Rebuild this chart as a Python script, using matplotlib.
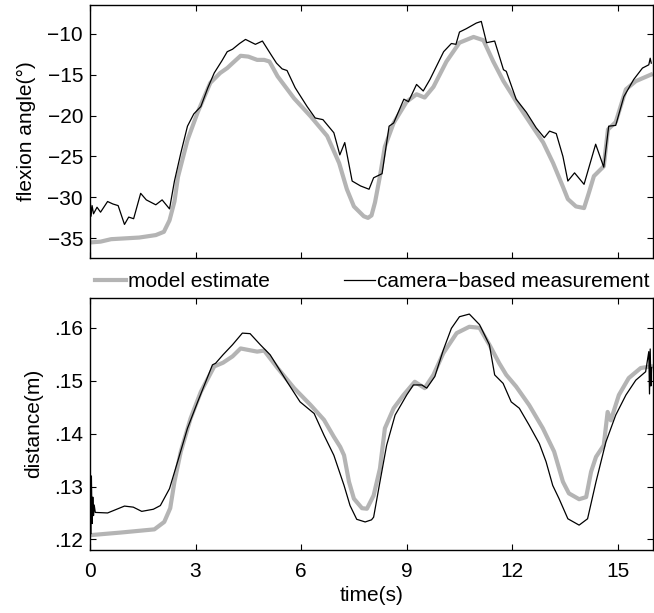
import numpy as np
import matplotlib
matplotlib.use('Agg')
import matplotlib.pyplot as plt

plt.rcParams['font.family'] = ['Liberation Sans', 'DejaVu Sans']
plt.rcParams['font.size'] = 15

# ---- flexion angle, model estimate ----
t_ang_model = [0.0, 0.3, 0.6, 1.0, 1.4, 1.87, 2.1, 2.26, 2.4, 2.5, 2.77, 3.06, 3.42, 3.7,
               3.9, 4.05, 4.28, 4.5, 4.75, 4.95, 5.1, 5.33, 5.8, 6.27, 6.74, 7.08, 7.3,
               7.5, 7.78, 7.9, 8.0, 8.1, 8.24, 8.38, 8.63, 9.0, 9.28, 9.51, 9.76, 10.13,
               10.5, 10.9, 11.18, 11.46, 11.75, 11.97, 12.2, 12.6, 12.88, 13.16, 13.44,
               13.58, 13.81, 14.04, 14.18, 14.32, 14.6, 14.72, 14.94, 15.23, 15.51, 15.94]
ang_model = [-35.5, -35.4, -35.1, -35.0, -34.9, -34.6, -34.2, -32.8, -30.5, -27.5, -23.0,
             -19.6, -16.0, -14.8, -14.2, -13.6, -12.7, -12.8, -13.2, -13.2, -13.4, -15.2,
             -17.9, -20.1, -22.5, -25.8, -29.0, -31.1, -32.3, -32.5, -32.2, -30.6, -27.4,
             -23.8, -20.9, -18.3, -17.4, -17.8, -16.5, -13.4, -11.1, -10.4, -10.8, -13.4,
             -15.8, -17.3, -18.9, -21.5, -23.3, -25.8, -28.7, -30.2, -31.1, -31.3, -29.4,
             -27.4, -26.2, -21.7, -20.8, -16.8, -15.8, -15.0]

# ---- flexion angle, camera ----
t_ang_cam = [0.0, 0.03, 0.06, 0.1, 0.2, 0.3, 0.5, 0.65, 0.8, 0.98, 1.1, 1.24, 1.44, 1.6,
             1.87, 2.05, 2.26, 2.4, 2.58, 2.77, 2.95, 3.15, 3.35, 3.53, 3.75, 3.9, 4.05,
             4.25, 4.42, 4.7, 4.9, 5.15, 5.3, 5.46, 5.6, 5.83, 6.17, 6.4, 6.62, 6.93, 7.1,
             7.24, 7.45, 7.69, 7.93, 8.06, 8.3, 8.5, 8.63, 8.92, 9.05, 9.28, 9.47, 9.66,
             10.05, 10.27, 10.4, 10.5, 10.69, 10.98, 11.12, 11.27, 11.5, 11.75, 11.83,
             12.11, 12.4, 12.68, 12.91, 13.06, 13.25, 13.44, 13.58, 13.77, 14.04, 14.37,
             14.6, 14.74, 14.94, 15.17, 15.45, 15.7, 15.88, 15.92, 15.95]
ang_cam = [-29.8, -32.3, -31.0, -32.0, -31.2, -31.8, -30.5, -30.8, -31.0, -33.3, -32.4,
           -32.6, -29.5, -30.3, -30.9, -30.3, -31.4, -28.0, -24.6, -21.3, -19.8, -18.9,
           -16.6, -14.8, -13.3, -12.2, -11.9, -11.2, -10.7, -11.3, -10.9, -12.6, -13.6,
           -14.3, -14.5, -16.6, -18.9, -20.3, -20.5, -22.1, -24.8, -23.3, -28.0, -28.6,
           -29.0, -27.6, -27.1, -21.3, -20.9, -18.0, -18.3, -16.2, -17.0, -15.6, -12.2,
           -11.2, -11.3, -9.8, -9.4, -8.7, -8.5, -11.1, -10.9, -14.4, -14.6, -18.0, -19.6,
           -21.5, -22.7, -21.9, -22.2, -25.0, -28.0, -27.0, -28.4, -23.5, -26.3, -21.3,
           -21.2, -17.7, -15.6, -14.2, -13.8, -13.0, -13.6]

# ---- distance, model estimate ----
t_dist_model = [0.0, 0.88, 1.83, 2.11, 2.28, 2.4, 2.58, 2.86, 3.15, 3.53, 3.78, 4.05, 4.28,
                4.75, 4.95, 5.33, 5.8, 6.27, 6.65, 6.93, 7.11, 7.22, 7.36, 7.5, 7.73, 7.87,
                8.06, 8.24, 8.38, 8.63, 8.91, 9.23, 9.51, 9.76, 10.04, 10.42, 10.78, 11.07,
                11.35, 11.63, 11.83, 12.11, 12.48, 12.87, 13.19, 13.44, 13.61, 13.9, 14.1,
                14.24, 14.38, 14.6, 14.71, 14.8, 15.03, 15.31, 15.65, 15.94]
dist_model = [.1208, .1213, .1219, .1233, .1259, .1309, .1366, .1429, .1479, .1527, .1534,
              .1546, .1561, .1555, .1557, .1524, .1486, .1454, .1426, .1394, .1375, .1359,
              .1309, .1277, .1259, .1258, .1283, .1334, .1410, .1448, .1473, .1498, .1486,
              .1511, .1552, .1590, .1602, .1600, .1568, .1533, .1511, .1489, .1454, .1410,
              .1366, .1309, .1287, .1276, .1280, .1328, .1356, .1378, .1441, .1425, .1473,
              .1505, .1524, .1527]

# ---- distance, camera ----
t_dist_cam = [0.0, 0.02, 0.04, 0.06, 0.08, 0.10, 0.12, 0.15, 0.5, 0.98, 1.23, 1.47, 1.8,
              2.0, 2.26, 2.49, 2.77, 3.06, 3.48, 3.57, 3.78, 4.05, 4.33, 4.55, 4.84, 5.12,
              5.6, 5.97, 6.37, 6.65, 6.93, 7.22, 7.39, 7.58, 7.82, 8.0, 8.06, 8.24, 8.43,
              8.67, 9.0, 9.19, 9.43, 9.57, 9.8, 10.04, 10.27, 10.5, 10.78, 11.07, 11.35,
              11.5, 11.74, 11.97, 12.2, 12.48, 12.77, 12.96, 13.15, 13.33, 13.58, 13.9,
              14.14, 14.38, 14.66, 14.94, 15.23, 15.51, 15.79, 15.88, 15.9, 15.92, 15.94,
              15.96]
dist_cam = [.1355, .1210, .1320, .1230, .1280, .1245, .1265, .1251, .1250, .1263, .1261,
            .1253, .1257, .1264, .1296, .1347, .1410, .1460, .1530, .1533, .1549, .1568,
            .1590, .1589, .1568, .1549, .1498, .1460, .1438, .1397, .1359, .1302, .1264,
            .1238, .1233, .1237, .1242, .1309, .1378, .1435, .1473, .1492, .1492, .1486,
            .1508, .1558, .1599, .1621, .1626, .1606, .1568, .1511, .1495, .1460, .1448,
            .1416, .1381, .1347, .1302, .1277, .1239, .1227, .1239, .1309, .1384, .1435,
            .1473, .1501, .1517, .1555, .1475, .1560, .1490, .1525]

x_ticks = [0, 3, 6, 9, 12, 15]
ang_ticks = [-35, -30, -25, -20, -15, -10]
dist_ticks = [.12, .13, .14, .15, .16]
dist_labels = ['.12', '.13', '.14', '.15', '.16']

gray = '#b4b4b4'

fig = plt.figure(figsize=(6.54, 6.13), dpi=100)
ax1 = fig.add_axes([0.1376, 0.5791, 0.8609, 0.4127])
ax2 = fig.add_axes([0.1376, 0.1028, 0.8609, 0.4116])

l1, = ax1.plot(t_ang_model, ang_model, color=gray, lw=3.0, label='model estimate')
l2, = ax1.plot(t_ang_cam, ang_cam, color='black', lw=0.9, label='camera\u2212based measurement')
ax2.plot(t_dist_model, dist_model, color=gray, lw=3.0)
ax2.plot(t_dist_cam, dist_cam, color='black', lw=0.9)

for ax in (ax1, ax2):
    ax.set_xlim(0, 16)
    ax.set_xticks(x_ticks)
    ax.tick_params(direction='in', top=True, right=True, length=4, width=0.8, labelsize=15)
    ax.tick_params(axis='x', pad=9)
    ax.tick_params(axis='y', pad=5)
    for s in ax.spines.values():
        s.set_linewidth(1.0)

ax1.set_ylim(-37.4, -6.5)
ax1.set_yticks(ang_ticks)
ax1.set_xticklabels([])
ax1.set_ylabel('flexion angle(\u00b0)', labelpad=8)

ax2.set_ylim(0.118, 0.1657)
ax2.set_yticks(dist_ticks)
ax2.set_yticklabels(dist_labels)
ax2.set_ylabel('distance(m)', labelpad=8)
ax2.set_xlabel('time(s)', labelpad=3)

fig.legend(handles=[l1, l2], loc='center left', bbox_to_anchor=(0.145, 0.540), ncol=2,
           frameon=False, handlelength=1.5, handletextpad=0.1, columnspacing=3.55,
           borderpad=0, borderaxespad=0, fontsize=15)

fig.savefig('out.png', dpi=100)
